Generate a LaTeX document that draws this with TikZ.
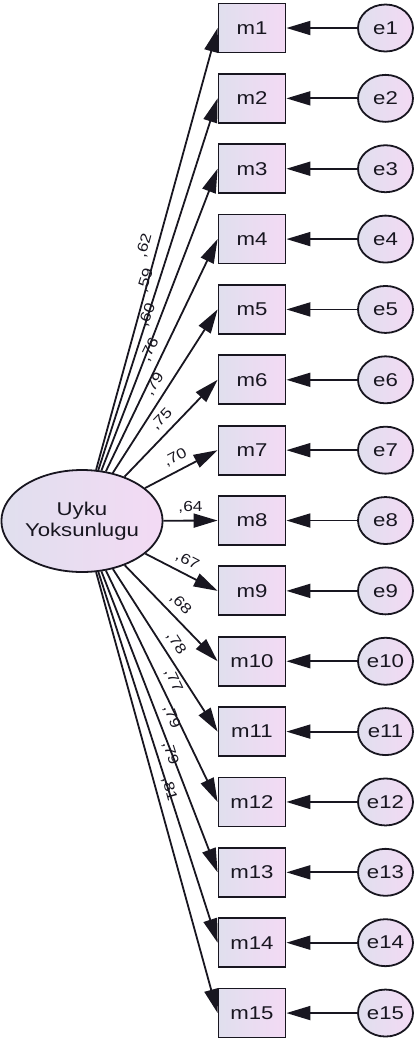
\documentclass[tikz,border=0pt]{standalone}
\usepackage{fontspec}
\setmainfont{Liberation Sans}
\usetikzlibrary{arrows.meta,shapes.geometric}
\definecolor{fillL}{RGB}{224,223,238}
\definecolor{fillR}{RGB}{243,218,244}
\definecolor{ink}{RGB}{24,22,32}
\newcommand\hx[1]{\scalebox{1.2}[1]{#1}}
\begin{document}
\begin{tikzpicture}[x=1pt,y=-1pt,line width=1.8pt,
  obs/.style={draw=ink,rectangle,minimum width=67pt,minimum height=49pt,inner sep=0pt,
    left color=fillL,right color=fillR,text=ink,font=\fontsize{18.5}{21}\selectfont},
  err/.style={draw=ink,ellipse,minimum width=55pt,minimum height=47pt,inner sep=0pt,
    left color=fillL,right color=fillR,text=ink,font=\fontsize{18.5}{21}\selectfont},
  lat/.style={draw=ink,ellipse,minimum width=132pt,minimum height=102pt,inner sep=0pt,
    left color=fillL,right color=fillR,text=ink,align=center,font=\fontsize{18.5}{21}\selectfont},
  arr/.style={draw=ink,-{Triangle[length=24pt,width=14pt]}},
  lbl/.style={sloped,midway,above=6pt,inner sep=0pt,text=ink,font=\fontsize{14.5}{16}\selectfont}]
\useasboundingbox (0,0) rectangle (414,1042);
\node[lat] (L) at (82,521) {\hx{Uyku}\\\hx{Yoksunlugu}};
\foreach \k/\v in {1/62,2/59,3/60,4/76,5/79,6/75,7/70,8/64,9/67,10/68,11/78,12/77,13/79,14/79,15/81} {
  \pgfmathsetmacro\yy{28+70.36*(\k-1)}
  \node[obs] (m\k) at (252,\yy) {\hx{m\k}};
  \node[err] (e\k) at (385.5,\yy) {\hx{e\k}};
  \draw[arr] (e\k) -- (m\k);
  \draw[arr] (L) -- (m\k.west) node[lbl] {\hx{,\v}};
}
\end{tikzpicture}
\end{document}
